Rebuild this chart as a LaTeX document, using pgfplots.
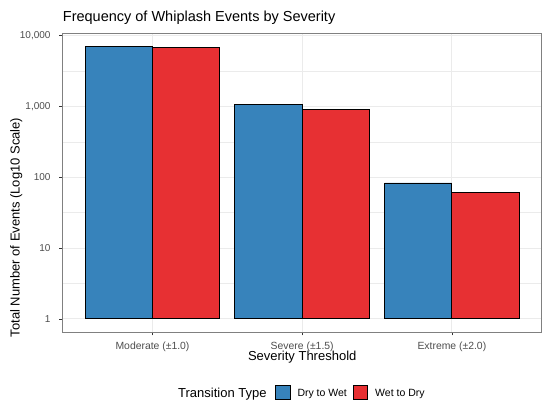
\documentclass[border=0pt]{standalone}
\usepackage{fontspec}
\setmainfont{Liberation Sans}
\usepackage{pgfplots}
\pgfplotsset{compat=1.18}
\definecolor{drywet}{RGB}{55,131,187}
\definecolor{wetdry}{RGB}{231,48,51}
\definecolor{grey20}{RGB}{51,51,51}
\definecolor{grey30}{RGB}{77,77,77}
\definecolor{grey92}{RGB}{235,235,235}
\begin{document}
\begin{tikzpicture}
\useasboundingbox (0bp,0bp) rectangle (550bp,410bp);
\begin{axis}[
  at={(62.7bp,78bp)}, anchor=south west,
  scale only axis, width=479bp, height=299bp,
  ymode=log, log basis y=10,
  ymin=0.653, ymax=10839,
  xmin=-0.6, xmax=2.6,
  ybar=0pt, bar width=0.45,
  xtick={0,1,2},
  xticklabels={Moderate (±1.0), Severe (±1.5), Extreme (±2.0)},
  ytick={1,10,100,1000,10000},
  yticklabels={1,10,100,{1,000},{10,000}},
  minor ytick={3.1623,31.623,316.23,3162.3},
  /pgf/number format/assume math mode=true,
  tick pos=left, tick align=outside,
  major tick length=3.3bp, minor tick length=0pt,
  tick style={grey20, line width=0.6bp},
  xmajorgrids, ymajorgrids, yminorgrids,
  major grid style={grey92, line width=0.8bp},
  minor grid style={grey92, line width=0.4bp},
  axis line style={black!50, line width=0.7bp},
  xticklabel style={font=\fontsize{10.4bp}{12bp}\selectfont, text=grey30, anchor=base, inner sep=0pt, yshift=-14.7bp},
  yticklabel style={font=\fontsize{10bp}{12bp}\selectfont, text=grey30, anchor=east, inner sep=0pt, xshift=-8.7bp},
  legend image code/.code={\draw[#1,/tikz/.cd,line width=0.8bp,yshift=3.8bp] (0bp,-7.25bp) rectangle (14.5bp,7.25bp);},
  legend columns=2,
  legend style={at={(0.4370,-0.2023)}, anchor=west, draw=none, fill=none,
    font=\fontsize{10.5bp}{12bp}\selectfont,
    nodes={inner sep=0pt, anchor=base west},
    /tikz/every odd column/.append style={column sep=7bp},
    /tikz/every even column/.append style={column sep=6bp}},
]
\addplot[fill=drywet, draw=black, line width=0.8bp] coordinates {(0,7070) (1,1067) (2,82.8)};
\addlegendentry{Dry to Wet}
\addplot[fill=wetdry, draw=black, line width=0.8bp] coordinates {(0,6780) (1,899) (2,61.4)};
\addlegendentry{Wet to Dry}
\end{axis}
\node[anchor=base west, inner sep=0pt, font=\fontsize{14.5bp}{17bp}\selectfont] at (62.7bp,388bp) {Frequency of Whiplash Events by Severity};
\node[anchor=base, inner sep=0pt, font=\fontsize{13bp}{15bp}\selectfont] at (302.2bp,49bp) {Severity Threshold};
\node[anchor=base, inner sep=0pt, rotate=90, font=\fontsize{13bp}{15bp}\selectfont] at (19.5bp,182.5bp) {Total Number of Events (Log10 Scale)};
\node[anchor=base west, inner sep=0pt, font=\fontsize{13bp}{15bp}\selectfont] at (178bp,13bp) {Transition Type};
\end{tikzpicture}
\end{document}
